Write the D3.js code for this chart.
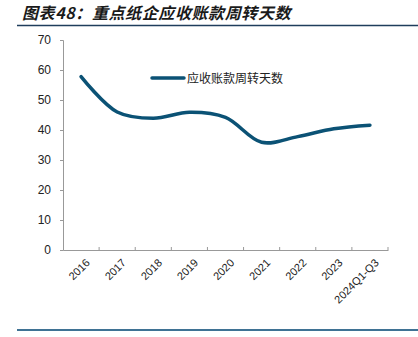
<!DOCTYPE html>
<html><head><meta charset="utf-8">
<script src="https://cdn.jsdelivr.net/npm/d3@7"></script>
<style>body{margin:0;background:#fff}svg{display:block}</style>
</head><body>
<svg id="c" width="418" height="337"></svg>
<script>
const categories = ["2016","2017","2018","2019","2020","2021","2022","2023","2024Q1-Q3"];
const values = [57.8, 46.0, 43.9, 45.9, 44.2, 35.9, 37.8, 40.4, 41.6];
const yTicks = [0,10,20,30,40,50,60,70];
const seriesName = "应收账款周转天数";
const title = "图表48：重点纸企应收账款周转天数";

const svg = d3.select("#c");
const font = "Liberation Sans, Arial, Noto Sans CJK SC, sans-serif";
const m = {l:63, r:388, t:40, b:250};
const x = d3.scaleBand().domain(categories).range([m.l, m.r]);
const y = d3.scaleLinear().domain([0,70]).range([m.b, m.t]);

svg.append("text").attr("x",22).attr("y",19)
  .attr("font-family","Noto Sans CJK SC, sans-serif").attr("font-size",16)
  .attr("font-weight","bold").attr("font-style","italic").attr("fill","#1a1a1a")
  .attr("letter-spacing",0.6).text(title);
svg.append("line").attr("x1",17).attr("x2",418).attr("y1",25.5).attr("y2",25.5)
  .attr("stroke","#1f3d5c").attr("stroke-width",1.5);
svg.append("line").attr("x1",17).attr("x2",418).attr("y1",330).attr("y2",330)
  .attr("stroke","#3f7294").attr("stroke-width",2);

const ya = svg.append("g").attr("transform",`translate(${m.l},0)`)
  .call(d3.axisLeft(y).tickValues(yTicks).tickSize(3).tickPadding(9));
ya.selectAll("text").attr("font-family",font).attr("font-size",12).attr("fill","#222");
ya.select(".domain").attr("stroke","#999");
ya.selectAll(".tick line").attr("stroke","#999");

const xa = svg.append("g").attr("transform",`translate(0,${m.b})`)
  .call(d3.axisBottom(x).tickSize(0).tickFormat(""));
xa.select(".domain").attr("stroke","#999");
xa.selectAll(".tick").remove();
const bounds = categories.map(c => x(c) + x.bandwidth());
xa.selectAll("line.bt").data(bounds).enter().append("line").attr("class","bt")
  .attr("x1",d=>d).attr("x2",d=>d).attr("y1",0).attr("y2",-3).attr("stroke","#999");
xa.selectAll("text.lbl").data(categories).enter().append("text").attr("class","lbl")
  .attr("transform",d=>`translate(${x(d)+x.bandwidth()/2+4},${8}) rotate(-45)`)
  .attr("text-anchor","end").attr("dy","0.71em")
  .attr("font-family",font).attr("font-size",11).attr("fill","#222").text(d=>d);

const line = d3.line().x((d,i)=>x(categories[i])+x.bandwidth()/2).y(d=>y(d))
  .curve(d3.curveCatmullRom.alpha(0.5));
svg.append("path").datum(values).attr("d",line).attr("fill","none")
  .attr("stroke","#0b5275").attr("stroke-width",3.5).attr("stroke-linecap","round");

svg.append("line").attr("x1",152).attr("x2",184).attr("y1",78).attr("y2",78)
  .attr("stroke","#0b5275").attr("stroke-width",3.5).attr("stroke-linecap","round");
svg.append("text").attr("x",187).attr("y",82.5).attr("font-family","Noto Sans CJK SC, sans-serif")
  .attr("font-size",12).attr("fill","#222").text(seriesName);
</script>
</body></html>
